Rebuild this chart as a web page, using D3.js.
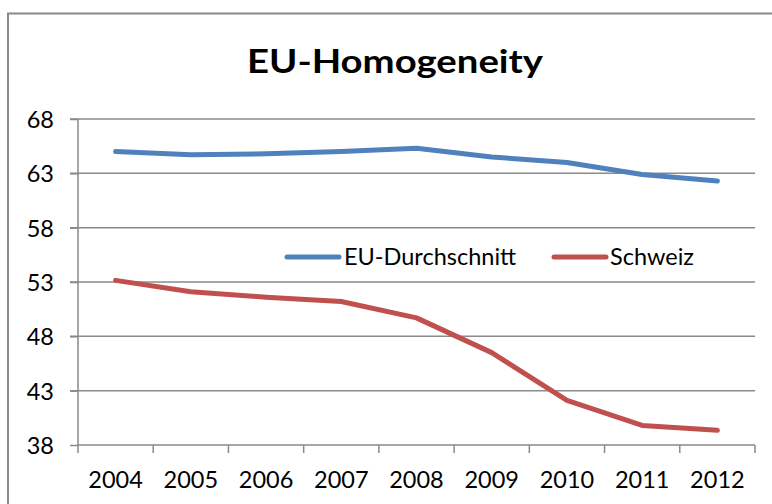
<!DOCTYPE html>
<html>
<head>
<meta charset="utf-8">
<script src="https://cdn.jsdelivr.net/npm/d3@7"></script>
<style>
  html, body { margin: 0; padding: 0; background: #fff; }
  svg { display: block; }
  text { font-family: Lato, "Open Sans", sans-serif; fill: #000; }
</style>
</head>
<body>
<svg id="chart" width="772" height="504"></svg>
<script>
const years = ["2004","2005","2006","2007","2008","2009","2010","2011","2012"];
const euValues = [65.0, 64.7, 64.8, 65.0, 65.3, 64.5, 64.0, 62.9, 62.3];
const chValues = [53.15, 52.1, 51.6, 51.2, 49.7, 46.5, 42.1, 39.8, 39.35];
const yTicks = [38, 43, 48, 53, 58, 63, 68];
const seriesNames = ["EU-Durchschnitt", "Schweiz"];
const colors = ["#4F81BD", "#C0504D"];
const title = "EU-Homogeneity";

const svg = d3.select("#chart");
const W = 772, H = 504;
const plot = { left: 78, right: 755, top: 119, bottom: 445 };

// outer frame
svg.append("path")
  .attr("d", `M8,${H} L8,13.5 L${W},13.5`)
  .attr("fill", "none").attr("stroke", "#8a8a8a").attr("stroke-width", 2);

svg.append("text")
  .attr("x", 395).attr("y", 73)
  .attr("text-anchor", "middle")
  .attr("textLength", 296).attr("lengthAdjust", "spacingAndGlyphs")
  .style("font-weight", "bold").style("font-size", "32px")
  .text(title);

const x = d3.scaleBand().domain(years).range([plot.left, plot.right]).padding(0);
const y = d3.scaleLinear().domain([38, 68]).range([plot.bottom, plot.top]);

// gridlines
svg.append("g").selectAll("line").data(yTicks.filter(t => t !== 38)).join("line")
  .attr("x1", plot.left - 8).attr("x2", plot.right)
  .attr("y1", d => y(d)).attr("y2", d => y(d))
  .attr("stroke", "#8a8a8a").attr("stroke-width", 1.5);

// y axis
const yAxis = d3.axisLeft(y).tickValues(yTicks).tickSize(8).tickPadding(16);
const gy = svg.append("g").attr("transform", `translate(${plot.left},0)`).call(yAxis);
gy.select(".domain").attr("stroke", "#8a8a8a").attr("stroke-width", 1.5).attr("d", `M0,${plot.bottom}V${plot.top}`);
gy.selectAll(".tick line").attr("stroke", "#8a8a8a").attr("stroke-width", 1.5);
gy.selectAll(".tick text").style("font-size", "23.5px").style("font-family", "Lato, sans-serif").attr("fill", "#000").attr("dy", "0.36em");

// x axis
const xAxis = d3.axisBottom(x).tickSize(0).tickPadding(26);
const gx = svg.append("g").attr("transform", `translate(0,${plot.bottom})`).call(xAxis);
gx.select(".domain").attr("stroke", "#8a8a8a").attr("stroke-width", 1.5).attr("d", `M${plot.left},0H${plot.right}`);
gx.selectAll(".tick text").style("font-size", "23.5px").style("font-family", "Lato, sans-serif").attr("fill", "#000").attr("dy", "0.72em");
// category boundary tick marks
const bounds = years.map(d => x(d)).concat([x(years[years.length - 1]) + x.bandwidth()]);
gx.append("g").selectAll("line").data(bounds).join("line")
  .attr("x1", d => d).attr("x2", d => d).attr("y1", 0).attr("y2", 8)
  .attr("stroke", "#8a8a8a").attr("stroke-width", 1.5);

const cx = d => x(d) + x.bandwidth() / 2;
const line = d3.line().x(d => cx(d.year)).y(d => y(d.value));

[euValues, chValues].forEach((vals, i) => {
  svg.append("path")
    .datum(years.map((yr, j) => ({ year: yr, value: vals[j] })))
    .attr("d", line)
    .attr("fill", "none")
    .attr("stroke", colors[i])
    .attr("stroke-width", 5)
    .attr("stroke-linecap", "round")
    .attr("stroke-linejoin", "round");
});

// legend
const legendItems = [
  { name: seriesNames[0], color: colors[0], x1: 287, x2: 339, tx: 344 },
  { name: seriesNames[1], color: colors[1], x1: 554, x2: 606, tx: 610 }
];
const lg = svg.append("g");
legendItems.forEach(it => {
  lg.append("line").attr("x1", it.x1).attr("x2", it.x2).attr("y1", 257).attr("y2", 257)
    .attr("stroke", it.color).attr("stroke-width", 5).attr("stroke-linecap", "round");
  lg.append("text").attr("x", it.tx).attr("y", 257).attr("dy", "0.36em")
    .style("font-size", "23.5px").text(it.name);
});
</script>
</body>
</html>
